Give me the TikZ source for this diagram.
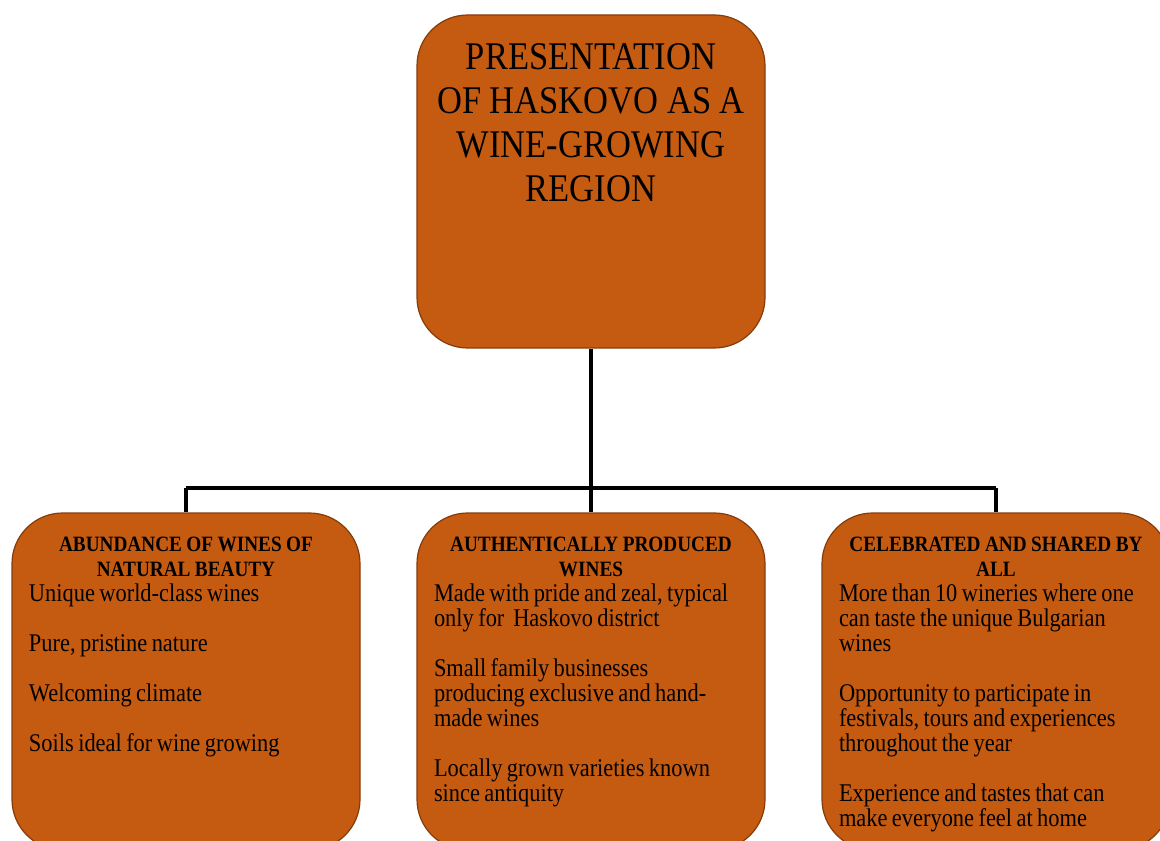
\documentclass[tikz,border=0pt]{standalone}
\usepackage{fontspec}
\setmainfont{Liberation Serif}[FakeStretch=0.88]

\definecolor{wineorange}{HTML}{C55A11}
\definecolor{wineedge}{HTML}{843C0C}
\newcommand{\itemgap}{\\[18.75pt]}
\newcommand{\headfont}{\bfseries\fontsize{16.4}{18.75}\selectfont}
\newcommand{\bodyfont}{\fontsize{19.1}{18.75}\selectfont}

\begin{document}
\begin{tikzpicture}[x=0.75pt,y=-0.75pt,
	box/.style={draw=wineedge, line width=0.9pt, fill=wineorange, rounded corners=38pt, minimum width=261pt, inner sep=0pt},
	wire/.style={line width=3.4pt, black},
	boxtext/.style={text width=235.5pt, anchor=north, inner sep=0pt}]
	\useasboundingbox (0,0) rectangle (1160,841);
	\clip (0,0) rectangle (1160,841);
	% Top box
	\node[box, minimum height=249.75pt] (region) at (591,181.5) {};
	\node[anchor=north, inner sep=0pt, align=center, font=\fontsize{29.4}{33}\selectfont] (regiontext) at (591,43)
	{PRESENTATION\\OF HASKOVO AS A\\WINE-GROWING\\REGION};
	% Bottom boxes
	\foreach \name/\x in {abund/186, authen/591, celeb/996}
	\node[box, minimum height=252.75pt] (\name) at (\x,681.5) {};
	\node[boxtext] (abundtext) at (186,537) {{\centering\headfont ABUNDANCE OF WINES OF\\NATURAL BEAUTY\par}
		\raggedright\bodyfont Unique world-class wines\itemgap Pure, pristine nature\itemgap
		Welcoming climate\itemgap Soils ideal for wine growing\par};
	\node[boxtext] (authentext) at (591,537) {{\centering\headfont AUTHENTICALLY PRODUCED\\WINES\par}
		\raggedright\bodyfont Made with pride and zeal, typical\\only for\ \ Haskovo district\itemgap
		Small family businesses\\producing exclusive and hand-\\made wines\itemgap
		Locally grown varieties known\\since antiquity\par};
	\node[boxtext] (celebtext) at (996,537) {{\centering\headfont CELEBRATED AND SHARED BY\\ALL\par}
		\raggedright\bodyfont More than 10 wineries where one\\can taste the unique Bulgarian\\wines\itemgap
		Opportunity to participate in\\festivals, tours and experiences\\throughout the year\itemgap
		Experience and tastes that can\\make everyone feel at home\par};
	% Connectors
	\coordinate (bus) at (591,488);
	\draw[wire] (region.south) -- (bus);
	\draw[wire] (abund.north |- bus) -- (celeb.north |- bus);
	\foreach \name in {abund,authen,celeb}
	\draw[wire] (bus -| \name.north) -- (\name.north);
\end{tikzpicture}
\end{document}
